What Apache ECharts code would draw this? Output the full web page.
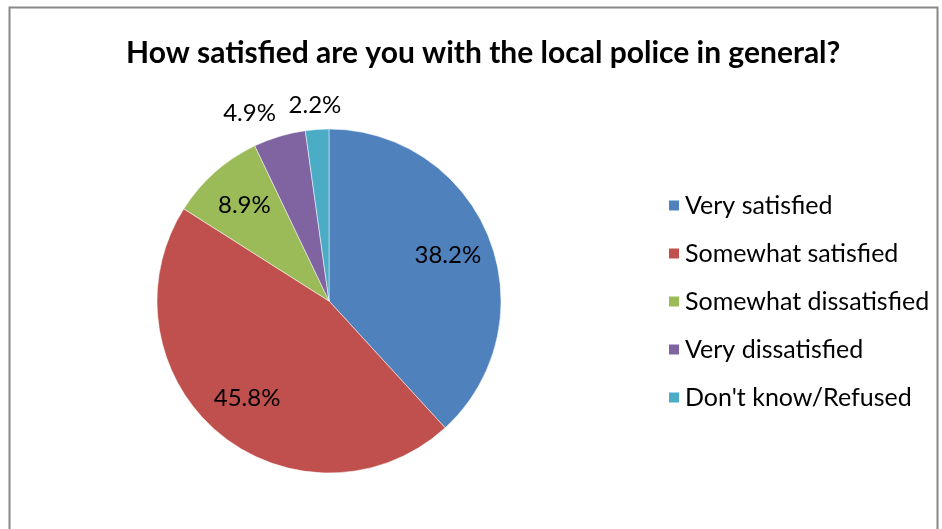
<!DOCTYPE html>
<html><head><meta charset="utf-8">
<script src="https://cdn.jsdelivr.net/npm/echarts@6/dist/echarts.min.js"></script>
<style>html,body{margin:0;padding:0;background:#fff}#c{width:942px;height:529px}</style>
</head><body><div id="c"></div>
<script>
const titleText = 'How satisfied are you with the local police in general?';
const categories = ['Very satisfied','Somewhat satisfied','Somewhat dissatisfied','Very dissatisfied',"Don't know/Refused"];
const values = [38.2, 45.8, 8.9, 4.9, 2.2];
const colors = ['#4F81BD','#C0504D','#9BBB59','#8064A2','#4BACC6'];
const insideIdx = [0,1,2];
const outsideIdx = [3,4];

const chart = echarts.init(document.getElementById('c'), null, {renderer:'canvas'});
const CX = 329, CY = 301, R = 172;
const FONT = 'Lato';
const labelStyle = {color:'#000', fontFamily:FONT, fontSize:24};

function mk(showSet, extra){
  return categories.map((n,i)=>Object.assign({
    name:n, value:values[i],
    label:{show:showSet.includes(i)}
  }, extra? extra(i):{}));
}

chart.setOption({
  animation:false,
  graphic:[{type:'rect', shape:{x:9.5,y:7.5,width:928,height:540}, style:{fill:'none', stroke:'#888', lineWidth:2}, silent:true}],
  title:{text:titleText, left:121, top:33, textStyle:{fontFamily:FONT, fontWeight:'bold', fontSize:30, color:'#000'}},
  legend:{orient:'vertical', left:662, top:188, itemWidth:12, itemHeight:12, itemGap:23, icon:'rect',
    data:categories,
    textStyle:{fontFamily:FONT, fontSize:25, lineHeight:25, color:'#000', padding:[0,0,0,0]}},
  series:[
    {type:'pie', name:'main', center:[CX,CY], radius:[0,R], startAngle:90, clockwise:true, silent:true,
     label:{show:false}, labelLine:{show:false},
     itemStyle:{borderColor:'#fff', borderWidth:0.5},
     data:categories.map((n,i)=>({name:n, value:values[i], itemStyle:{color:colors[i]}}))},
    {type:'pie', name:'labelsIn', center:[CX,CY], radius:[77,R], startAngle:90, clockwise:true, silent:true,
     itemStyle:{color:'rgba(0,0,0,0)'}, labelLine:{show:false},
     label:Object.assign({position:'inside', formatter:p=>p.value.toFixed(1)+'%'}, labelStyle),
     data:mk(insideIdx)},
    {type:'pie', name:'labelsOut', center:[CX,CY], radius:[180,220], startAngle:90, clockwise:true, silent:true,
     itemStyle:{color:'rgba(0,0,0,0)'}, labelLine:{show:false},
     label:Object.assign({position:'inside', formatter:p=>p.value.toFixed(1)+'%'}, labelStyle),
     data:mk(outsideIdx, i=> i===3 ? {label:{show:true, offset:[-21,7]}} : (i===4 ? {label:{show:true, offset:[0,7]}} : {}))}
  ]
});
</script></body></html>
